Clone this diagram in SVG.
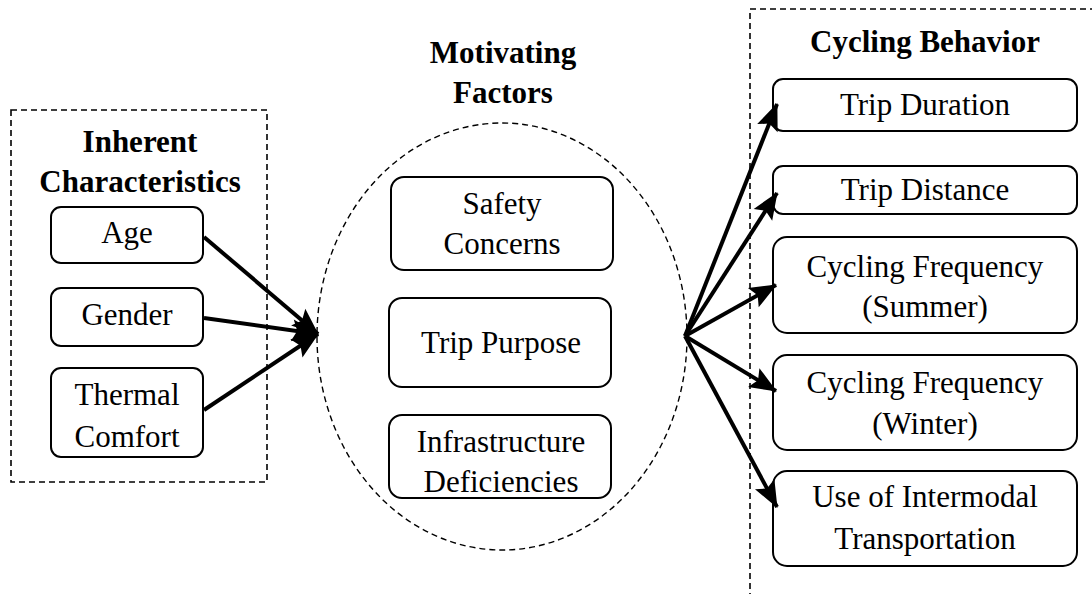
<svg xmlns="http://www.w3.org/2000/svg" width="1092" height="594" viewBox="0 0 1092 594">
<defs>
<style>
.t{font-family:"Liberation Serif","Times New Roman",serif;font-size:31px;fill:#000;text-anchor:middle}
.b{font-weight:bold}
.box{fill:#fff;stroke:#000;stroke-width:2}
.grp{fill:none;stroke:#000;stroke-width:1.6;stroke-dasharray:6 4}
.ell{fill:none;stroke:#000;stroke-width:1.4;stroke-dasharray:6 4}
.arr{stroke:#000;stroke-width:4;fill:none;marker-end:url(#ah)}
</style>
<marker id="ah" markerUnits="userSpaceOnUse" markerWidth="30" markerHeight="26" viewBox="0 0 30 26" refX="27" refY="13" orient="auto">
<path d="M1,2 L28,13 L1,24 L6,13 Z" fill="#000"/>
</marker>
</defs>
<rect width="1092" height="594" fill="#fff"/>

<g id="inherent">
<rect class="grp" x="11" y="110" width="256" height="372"/>
<text class="t b" x="140" y="152">Inherent</text>
<text class="t b" x="140" y="192">Characteristics</text>
</g>
<g id="age"><rect class="box" x="51" y="207" width="152" height="56" rx="10"/><text class="t" x="127" y="243">Age</text></g>
<g id="gender"><rect class="box" x="51" y="288" width="152" height="58" rx="10"/><text class="t" x="127" y="325">Gender</text></g>
<g id="thermal"><rect class="box" x="51" y="368" width="152" height="89" rx="10"/><text class="t" x="127" y="405">Thermal</text><text class="t" x="127" y="447">Comfort</text></g>

<g id="motivating">
<text class="t b" x="503" y="63">Motivating</text>
<text class="t b" x="503" y="103">Factors</text>
<ellipse class="ell" cx="502" cy="336.5" rx="185" ry="213.5"/>
</g>
<g id="safety"><rect class="box" x="391" y="177" width="222" height="93" rx="13"/><text class="t" x="502" y="214">Safety</text><text class="t" x="502" y="254">Concerns</text></g>
<g id="purpose"><rect class="box" x="389" y="298" width="222" height="89" rx="13"/><text class="t" x="501" y="353">Trip Purpose</text></g>
<g id="infra"><text class="t" x="501" y="452">Infrastructure</text><text class="t" x="501" y="492">Deficiencies</text><rect class="box" x="389" y="415" width="222" height="83" rx="13" style="fill:none"/></g>

<g id="behavior">
<rect class="grp" x="750" y="9" width="400" height="640"/>
<text class="t b" x="925" y="52">Cycling Behavior</text>
</g>
<g id="duration"><rect class="box" x="773" y="79" width="304" height="52" rx="10"/><text class="t" x="925" y="115">Trip Duration</text></g>
<g id="distance"><rect class="box" x="773" y="166" width="304" height="48" rx="10"/><text class="t" x="925" y="200">Trip Distance</text></g>
<g id="summer"><rect class="box" x="773" y="237" width="304" height="96" rx="14"/><text class="t" x="925" y="277">Cycling Frequency</text><text class="t" x="925" y="317">(Summer)</text></g>
<g id="winter"><rect class="box" x="773" y="355" width="304" height="95" rx="14"/><text class="t" x="925" y="393">Cycling Frequency</text><text class="t" x="925" y="434">(Winter)</text></g>
<g id="intermodal"><rect class="box" x="773" y="471" width="304" height="95" rx="14"/><text class="t" x="925" y="507">Use of Intermodal</text><text class="t" x="925" y="549">Transportation</text></g>

<g id="connectors">
<line class="arr" x1="204" y1="237" x2="318" y2="334"/>
<line class="arr" x1="204" y1="318" x2="318" y2="334"/>
<line class="arr" x1="204" y1="410" x2="318" y2="334"/>
<line class="arr" x1="685" y1="336" x2="777" y2="104"/>
<line class="arr" x1="685" y1="336" x2="777" y2="193"/>
<line class="arr" x1="685" y1="336" x2="776" y2="285"/>
<line class="arr" x1="685" y1="336" x2="776" y2="391"/>
<line class="arr" x1="685" y1="336" x2="777" y2="507"/>
</g>
</svg>
